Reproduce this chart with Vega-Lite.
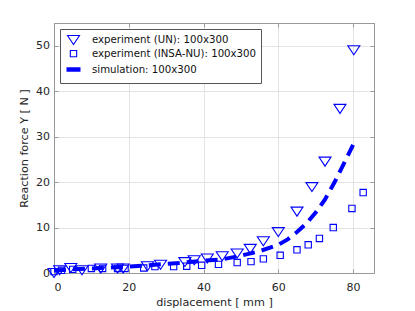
{
  "$schema": "https://vega.github.io/schema/vega-lite/v6.json",
  "width": 320,
  "height": 250,
  "autosize": {"type": "none"},
  "padding": {"left": 54, "top": 23, "right": 41, "bottom": 38},
  "background": "white",
  "config": {
    "font": "DejaVu Sans",
    "view": {"stroke": "#999", "strokeWidth": 1},
    "axis": {
      "gridColor": "#e3e3e3",
      "domainColor": "#999",
      "tickColor": "#999",
      "labelColor": "#262626",
      "titleColor": "#262626",
      "labelFontSize": 11,
      "titleFontSize": 11.2,
      "titleFontWeight": "normal"
    }
  },
  "datasets": {
    "pts": [
      {"series": "experiment (UN): 100x300", "x": 0, "y": 0},
      {"series": "experiment (UN): 100x300", "x": 1.5, "y": 0.6},
      {"series": "experiment (UN): 100x300", "x": 4.5, "y": 1.1},
      {"series": "experiment (UN): 100x300", "x": 7.5, "y": 0.6},
      {"series": "experiment (UN): 100x300", "x": 12.5, "y": 1.0},
      {"series": "experiment (UN): 100x300", "x": 17, "y": 1.0},
      {"series": "experiment (UN): 100x300", "x": 18.5, "y": 1.0},
      {"series": "experiment (UN): 100x300", "x": 25, "y": 1.5},
      {"series": "experiment (UN): 100x300", "x": 28.5, "y": 1.8},
      {"series": "experiment (UN): 100x300", "x": 35, "y": 2.4},
      {"series": "experiment (UN): 100x300", "x": 37.5, "y": 2.8},
      {"series": "experiment (UN): 100x300", "x": 41, "y": 3.2},
      {"series": "experiment (UN): 100x300", "x": 45, "y": 3.7},
      {"series": "experiment (UN): 100x300", "x": 49, "y": 4.3},
      {"series": "experiment (UN): 100x300", "x": 52.5, "y": 5.3},
      {"series": "experiment (UN): 100x300", "x": 56, "y": 7.0},
      {"series": "experiment (UN): 100x300", "x": 60, "y": 9.0},
      {"series": "experiment (UN): 100x300", "x": 65, "y": 13.5},
      {"series": "experiment (UN): 100x300", "x": 69, "y": 18.9},
      {"series": "experiment (UN): 100x300", "x": 72.5, "y": 24.5},
      {"series": "experiment (UN): 100x300", "x": 76.5, "y": 36.1},
      {"series": "experiment (UN): 100x300", "x": 80.2, "y": 49.0},
      {"series": "experiment (INSA-NU): 100x300", "x": 0, "y": 0.3},
      {"series": "experiment (INSA-NU): 100x300", "x": 2, "y": 0.6},
      {"series": "experiment (INSA-NU): 100x300", "x": 5, "y": 0.8},
      {"series": "experiment (INSA-NU): 100x300", "x": 10, "y": 1.0},
      {"series": "experiment (INSA-NU): 100x300", "x": 13, "y": 1.0},
      {"series": "experiment (INSA-NU): 100x300", "x": 17, "y": 1.0},
      {"series": "experiment (INSA-NU): 100x300", "x": 19, "y": 1.0},
      {"series": "experiment (INSA-NU): 100x300", "x": 24, "y": 1.1},
      {"series": "experiment (INSA-NU): 100x300", "x": 27, "y": 1.4},
      {"series": "experiment (INSA-NU): 100x300", "x": 32, "y": 1.4},
      {"series": "experiment (INSA-NU): 100x300", "x": 35.5, "y": 1.5},
      {"series": "experiment (INSA-NU): 100x300", "x": 39.5, "y": 1.7},
      {"series": "experiment (INSA-NU): 100x300", "x": 44, "y": 1.9},
      {"series": "experiment (INSA-NU): 100x300", "x": 49, "y": 2.3},
      {"series": "experiment (INSA-NU): 100x300", "x": 52.7, "y": 2.5},
      {"series": "experiment (INSA-NU): 100x300", "x": 56, "y": 3.1},
      {"series": "experiment (INSA-NU): 100x300", "x": 60.5, "y": 3.9},
      {"series": "experiment (INSA-NU): 100x300", "x": 65, "y": 5.1},
      {"series": "experiment (INSA-NU): 100x300", "x": 68, "y": 6.2},
      {"series": "experiment (INSA-NU): 100x300", "x": 71, "y": 7.6},
      {"series": "experiment (INSA-NU): 100x300", "x": 74.7, "y": 10.0},
      {"series": "experiment (INSA-NU): 100x300", "x": 79.7, "y": 14.2},
      {"series": "experiment (INSA-NU): 100x300", "x": 82.7, "y": 17.7}
    ],
    "sim": [
      {"x": 0, "y": 0.5},
      {"x": 5, "y": 0.8},
      {"x": 10, "y": 1.0},
      {"x": 15, "y": 1.2},
      {"x": 20, "y": 1.4},
      {"x": 25, "y": 1.7},
      {"x": 30, "y": 2.0},
      {"x": 35, "y": 2.3},
      {"x": 40, "y": 2.7},
      {"x": 45, "y": 3.0},
      {"x": 50, "y": 3.8},
      {"x": 55, "y": 4.8},
      {"x": 60, "y": 6.2},
      {"x": 62.5, "y": 7.4},
      {"x": 65, "y": 9.0},
      {"x": 67.5, "y": 10.9},
      {"x": 70, "y": 13.3},
      {"x": 72.5, "y": 16.2},
      {"x": 75, "y": 19.9},
      {"x": 77.5, "y": 24.0},
      {"x": 80, "y": 28.2}
    ]
  },
  "resolve": {"axis": {"x": "independent", "y": "independent"}},
  "layer": [
    {
      "data": {"name": "sim"},
      "mark": {"type": "line", "color": "#0000ff", "strokeWidth": 4, "strokeDash": [12, 7], "clip": true},
      "encoding": {
        "x": {"field": "x", "type": "quantitative", "scale": {"domain": [0, 85.6], "nice": false, "zero": false},
          "axis": {"title": "displacement [ mm ]", "values": [0, 20, 40, 60, 80], "tickSize": -4, "labelPadding": 12, "titlePadding": 4}},
        "y": {"field": "y", "type": "quantitative", "scale": {"domain": [0, 55], "nice": false, "zero": false},
          "axis": {"title": "Reaction force Y [ N ]", "values": [0, 10, 20, 30, 40, 50], "tickSize": -4, "labelPadding": 8.5, "titlePadding": 6}}
      }
    },
    {
      "data": {"name": "pts"},
      "mark": {"type": "point", "filled": false, "color": "#0000ff", "opacity": 1},
      "encoding": {
        "x": {"field": "x", "type": "quantitative",
          "axis": {"orient": "top", "title": null, "labels": false, "grid": false, "values": [0, 20, 40, 60, 80], "tickSize": -4}},
        "y": {"field": "y", "type": "quantitative",
          "axis": {"orient": "right", "title": null, "labels": false, "grid": false, "values": [0, 10, 20, 30, 40, 50], "tickSize": -4}},
        "shape": {"field": "series", "type": "nominal",
          "scale": {
            "domain": ["experiment (UN): 100x300", "experiment (INSA-NU): 100x300", "simulation: 100x300"],
            "range": ["M-1,-0.75L1,-0.75L0,0.75Z", "square", "stroke"]
          },
          "legend": {
            "title": null,
            "orient": "top-left",
            "offset": 6,
            "padding": 4,
            "fillColor": "white",
            "strokeColor": "#555",
            "labelFontSize": 10.2,
            "labelColor": "#111",
            "labelOffset": 9,
            "labelLimit": 400,
            "rowPadding": 0.5,
            "symbolOpacity": 1,
            "symbolStrokeColor": "#0000ff"
          }
        },
        "size": {"field": "series", "type": "nominal",
          "scale": {
            "type": "ordinal",
            "domain": ["experiment (UN): 100x300", "experiment (INSA-NU): 100x300", "simulation: 100x300"],
            "range": [144, 40, 196]
          },
          "legend": {"title": null}
        },
        "strokeWidth": {"field": "series", "type": "nominal",
          "scale": {
            "type": "ordinal",
            "domain": ["experiment (UN): 100x300", "experiment (INSA-NU): 100x300", "simulation: 100x300"],
            "range": [1.1, 1.1, 4.5]
          },
          "legend": {"title": null}
        }
      }
    }
  ]
}
